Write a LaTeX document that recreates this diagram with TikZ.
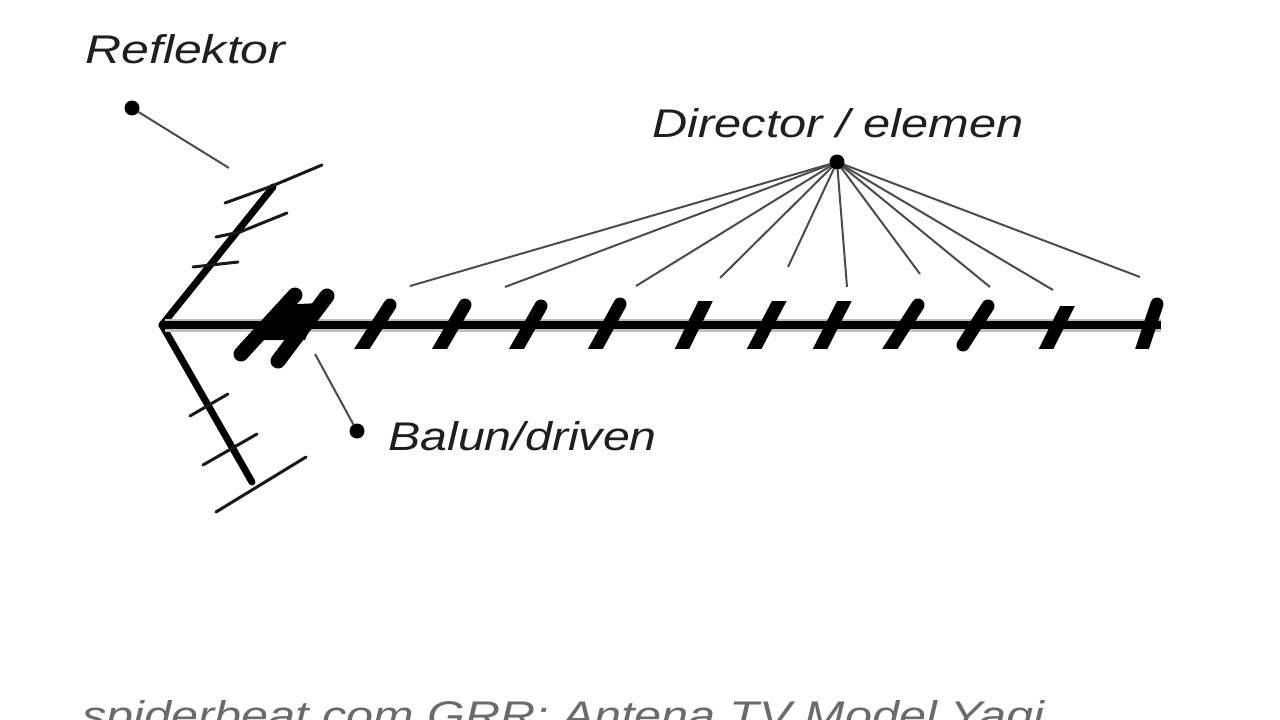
\documentclass[tikz,border=0pt]{standalone}
\usepackage{fontspec}
\setmainfont{Liberation Sans}
\pgfdeclarelayer{paper}
\pgfdeclarelayer{leaders}
\pgfsetlayers{paper,leaders,main}
\begin{document}
\begin{tikzpicture}[x=1pt,y=-1pt,
  lbl/.style={font=\fontsize{40}{44}\selectfont\itshape,anchor=base west,inner sep=0pt,xscale=1.22,transform shape,text=black!88},
  foot/.style={font=\fontsize{40}{44}\selectfont\itshape,anchor=base west,inner sep=0pt,xscale=1.213,transform shape,text=black!58},
  dotn/.style={circle,fill=black,inner sep=0pt,minimum size=15pt},
  leader/.style={draw=black!70,line width=2pt},
  boomhalo/.style={draw=black!25,line width=13pt},
  boomcore/.style={draw=black,line width=7.5pt},
  elem/.style={draw=black,line width=13pt,line cap=round},
  driven/.style={draw=black,line width=15pt,line cap=round},
  arm/.style={draw=black,line width=7pt,line cap=round},
  bar/.style={draw=black!90,line width=3pt,line cap=round}]
\useasboundingbox (0,0) rectangle (1280,720);
\clip (0,0) rectangle (1280,720);
\begin{pgfonlayer}{paper}
\fill[white] (0,0) rectangle (1280,720);
\end{pgfonlayer}
% arms
\draw[arm] (162,325) -- (273,187);
\draw[arm] (162,325) -- (252,482);
% reflector side bars
\draw[bar] (225,203) -- (272,186) -- (322,165);
\draw[bar] (216,237) -- (240,232) -- (287,213);
\draw[bar] (193,267) -- (238,262);
\draw[bar] (190,416) -- (228,394);
\draw[bar] (203,465) -- (257,434);
\draw[bar] (216,512) -- (306,457);
% boom
\draw[boomhalo] (165,325) -- (1161,325);
\draw[boomcore] (160,325) -- (1161,325);
% driven element
\draw[driven] (295,295) -- (241,354);
\draw[driven] (327,296) -- (278,361);
\fill[black] (254,332) -- (278,305) -- (320,303) -- (305,340) -- (254,340) -- cycle;
% directors: round top, flat bottom
\begin{scope}
\clip (340,280) rectangle (1180,348);
\draw[elem] (390,305) -- (358,355);
\draw[elem] (465,305) -- (436,355);
\draw[elem] (541,306) -- (513,355);
\draw[elem] (620,304) -- (592,355);
\draw[elem] (918,305) -- (886,355);
\draw[elem] (1157,304) -- (1140,355);
\end{scope}
% directors: flat top, flat bottom
\begin{scope}
\clip (660,301) rectangle (1090,348);
\draw[elem] (711,290) -- (679,355);
\draw[elem] (785,290) -- (751,355);
\draw[elem] (850,290) -- (817,355);
\end{scope}
\begin{scope}
\clip (1030,306) rectangle (1090,348);
\draw[elem] (1073,295) -- (1043,355);
\end{scope}
% director with round bottom
\draw[elem] (988,306) -- (963,345);
% labels
\node[lbl,xscale=1.025] (reflabel) at (85,63) {Reflektor};
\node[lbl] (dirlabel) at (652,137) {Director / elemen};
\node[lbl,xscale=0.99] (ballabel) at (388,450) {Balun/driven};
\node[foot] (footer) at (82,729) {spiderbeat.com GRR: Antena TV Model Yagi};
% leaders
\node[dotn] (refdot) at (132,108) {};
\node[dotn] (baldot) at (357,431) {};
\node[dotn] (dirdot) at (837,162) {};
\coordinate (refend) at (229,168);
\coordinate (balend) at (315,354);
\coordinate (d1) at (410,286);
\coordinate (d2) at (505,287);
\coordinate (d3) at (636,286);
\coordinate (d4) at (720,278);
\coordinate (d5) at (788,267);
\coordinate (d6) at (847,287);
\coordinate (d7) at (920,274);
\coordinate (d8) at (990,287);
\coordinate (d9) at (1053,290);
\coordinate (d10) at (1140,277);
\begin{pgfonlayer}{leaders}
\draw[leader] (refdot) -- (refend);
\draw[leader] (baldot) -- (balend);
\foreach \n in {d1,d2,d3,d4,d5,d6,d7,d8,d9,d10}{\draw[leader] (dirdot.center) -- (\n);}
\end{pgfonlayer}
\end{tikzpicture}
\end{document}
